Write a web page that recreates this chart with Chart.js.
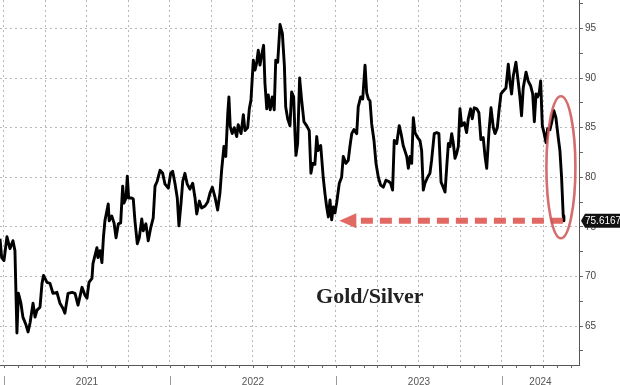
<!DOCTYPE html>
<html>
<head>
<meta charset="utf-8">
<script src="https://cdn.jsdelivr.net/npm/chart.js@4"></script>
<style>
  html, body { margin: 0; padding: 0; background: #fff; }
  #wrap { width: 620px; height: 385px; }
</style>
</head>
<body>
<div id="wrap"><canvas id="ratioChart" width="620" height="385"></canvas></div>
<script>
// time in fractional years
const yearFrac = [
  2020.976, 2020.986, 2021.000, 2021.018, 2021.036, 2021.054, 2021.066, 2021.078, 2021.087, 2021.102,
  2021.114, 2021.133, 2021.145, 2021.157, 2021.175, 2021.187, 2021.199, 2021.217, 2021.229, 2021.238,
  2021.259, 2021.277, 2021.295, 2021.319, 2021.337, 2021.355, 2021.367, 2021.386, 2021.410, 2021.428,
  2021.446, 2021.470, 2021.488, 2021.500, 2021.512, 2021.530, 2021.536, 2021.560, 2021.566, 2021.578,
  2021.590, 2021.599, 2021.608, 2021.628, 2021.634, 2021.649, 2021.663, 2021.675, 2021.689, 2021.703,
  2021.715, 2021.723, 2021.735, 2021.743, 2021.751, 2021.769, 2021.779, 2021.789, 2021.803, 2021.815,
  2021.830, 2021.839, 2021.855, 2021.869, 2021.884, 2021.899, 2021.910, 2021.923, 2021.940, 2021.956,
  2021.970, 2021.990, 2022.004, 2022.016, 2022.030, 2022.044, 2022.054, 2022.066, 2022.077, 2022.090,
  2022.104, 2022.120, 2022.137, 2022.151, 2022.161, 2022.177, 2022.191, 2022.211, 2022.227, 2022.241,
  2022.255, 2022.271, 2022.287, 2022.301, 2022.311, 2022.325, 2022.336, 2022.348, 2022.355, 2022.363,
  2022.375, 2022.387, 2022.402, 2022.411, 2022.428, 2022.442, 2022.452, 2022.468, 2022.478, 2022.488,
  2022.502, 2022.512, 2022.522, 2022.532, 2022.542, 2022.552, 2022.564, 2022.572, 2022.583, 2022.592,
  2022.604, 2022.616, 2022.628, 2022.637, 2022.649, 2022.663, 2022.677, 2022.689, 2022.697, 2022.709,
  2022.723, 2022.733, 2022.745, 2022.753, 2022.759, 2022.769, 2022.781, 2022.793, 2022.807, 2022.823,
  2022.839, 2022.849, 2022.860, 2022.873, 2022.884, 2022.893, 2022.908, 2022.923, 2022.934, 2022.944,
  2022.954, 2022.964, 2022.974, 2022.984, 2022.994, 2023.004, 2023.020, 2023.034, 2023.044, 2023.060,
  2023.074, 2023.084, 2023.095, 2023.108, 2023.125, 2023.134, 2023.149, 2023.161, 2023.175, 2023.185,
  2023.195, 2023.205, 2023.215, 2023.229, 2023.241, 2023.255, 2023.269, 2023.285, 2023.301, 2023.315,
  2023.329, 2023.341, 2023.351, 2023.366, 2023.381, 2023.392, 2023.405, 2023.426, 2023.436, 2023.446,
  2023.456, 2023.466, 2023.476, 2023.492, 2023.506, 2023.516, 2023.526, 2023.536, 2023.552, 2023.566,
  2023.576, 2023.592, 2023.607, 2023.620, 2023.633, 2023.646, 2023.657, 2023.667, 2023.677, 2023.687,
  2023.697, 2023.707, 2023.717, 2023.727, 2023.737, 2023.747, 2023.757, 2023.773, 2023.787, 2023.797,
  2023.811, 2023.821, 2023.833, 2023.848, 2023.861, 2023.873, 2023.887, 2023.898, 2023.908, 2023.922,
  2023.934, 2023.948, 2023.958, 2023.972, 2023.982, 2023.994, 2024.008, 2024.024, 2024.038, 2024.048,
  2024.058, 2024.068, 2024.084, 2024.098, 2024.108, 2024.118, 2024.128, 2024.145, 2024.158, 2024.173,
  2024.185, 2024.195, 2024.205, 2024.215, 2024.225, 2024.233, 2024.243, 2024.253, 2024.265, 2024.275,
  2024.289, 2024.299, 2024.313, 2024.325, 2024.339, 2024.349, 2024.359, 2024.369, 2024.373
];

// gold / silver ratio
const ratio = [
  73.8, 71.9, 71.6, 74.0, 72.8, 73.6, 72.6, 64.3, 68.3, 67.3,
  65.9, 65.1, 64.4, 65.3, 67.3, 65.9, 66.6, 66.9, 69.3, 70.1,
  69.4, 69.3, 68.3, 68.4, 67.3, 66.8, 66.3, 68.3, 68.4, 68.3,
  67.1, 68.9, 68.1, 67.8, 69.4, 69.8, 71.3, 72.9, 71.9, 72.6,
  71.4, 73.9, 75.6, 77.3, 75.6, 76.1, 75.4, 73.9, 75.3, 75.4,
  79.1, 77.4, 77.9, 80.1, 77.9, 77.9, 77.8, 75.6, 73.3, 73.9,
  75.8, 74.6, 75.3, 73.6, 74.9, 75.9, 79.1, 79.6, 80.7, 80.4,
  79.3, 78.9, 80.4, 80.6, 79.4, 77.9, 75.1, 77.3, 79.6, 80.4,
  79.3, 78.8, 79.4, 77.9, 76.3, 77.6, 76.9, 77.1, 77.5, 78.4,
  79.0, 78.0, 76.7, 78.4, 80.7, 83.1, 82.1, 86.4, 88.1, 85.1,
  84.4, 85.0, 84.1, 85.3, 84.4, 86.3, 84.7, 85.0, 86.9, 87.8,
  91.8, 90.8, 91.5, 92.8, 91.3, 92.3, 93.3, 89.5, 86.9, 88.3,
  86.8, 88.1, 86.8, 91.8, 91.6, 95.4, 94.5, 91.3, 87.1, 85.9,
  85.2, 88.6, 88.1, 84.4, 82.2, 83.4, 90.0, 87.8, 85.6, 85.2,
  84.7, 80.4, 81.4, 81.3, 84.1, 82.7, 83.2, 80.0, 78.3, 77.0,
  76.0, 77.7, 75.7, 77.0, 76.4, 77.4, 79.4, 80.0, 82.1, 81.4,
  81.7, 83.1, 84.4, 84.8, 84.4, 87.1, 88.1, 87.9, 91.3, 88.5,
  87.9, 87.7, 85.4, 83.7, 81.4, 80.0, 79.2, 79.0, 79.7, 79.6,
  79.4, 78.7, 83.7, 83.4, 85.2, 84.4, 83.2, 82.1, 80.9, 82.1,
  81.4, 86.0, 84.5, 84.0, 83.7, 82.7, 78.7, 79.4, 80.0, 80.4,
  81.7, 84.4, 84.5, 84.4, 79.5, 79.0, 78.5, 81.0, 83.4, 83.1,
  84.4, 83.4, 81.9, 82.4, 83.1, 86.9, 85.2, 85.5, 84.5, 85.9,
  86.9, 85.9, 87.0, 86.9, 86.5, 83.8, 84.0, 82.1, 80.9, 84.7,
  87.0, 85.0, 84.4, 85.0, 86.7, 88.4, 88.7, 89.0, 91.4, 89.6,
  88.4, 90.2, 91.6, 89.6, 88.1, 86.2, 89.0, 90.6, 89.7, 89.2,
  88.4, 85.6, 88.4, 88.1, 88.6, 89.7, 85.2, 84.5, 83.5, 84.9,
  84.8, 85.5, 86.7, 86.0, 84.0, 82.7, 80.0, 76.1, 75.6167
];

const yearLabels = [2021, 2022, 2023, 2024];
const lastValue = 75.6167;
const seriesTitle = 'Gold/Silver';

const noPad = s => { s.paddingLeft = 0; s.paddingRight = 0; s.paddingTop = 0; s.paddingBottom = 0; };
const tickFont = '"Liberation Sans", Arial, sans-serif';

// extra drawing: month ticks, year labels, ellipse, arrow, text and last-value tag
const overlay = {
  id: 'overlay',
  afterDatasetsDraw(chart) {
    const { ctx, chartArea } = chart;
    const x = chart.scales.x, y = chart.scales.y;
    const lastX = x.getPixelForValue(yearFrac[yearFrac.length - 1]);
    const lastY = y.getPixelForValue(lastValue);

    ctx.save();
    ctx.beginPath();
    ctx.rect(chartArea.left, chartArea.top, chartArea.width, chartArea.height);
    ctx.clip();

    // dashed arrow back to the 2022 low
    const tipX = x.getPixelForValue(2023.02);
    ctx.strokeStyle = 'rgba(221,78,72,0.85)';
    ctx.fillStyle = 'rgba(221,78,72,0.85)';
    ctx.lineWidth = 6;
    ctx.setLineDash([12, 7]);
    ctx.beginPath();
    ctx.moveTo(lastX - 1, lastY);
    ctx.lineTo(tipX + 16, lastY);
    ctx.stroke();
    ctx.setLineDash([]);
    ctx.beginPath();
    ctx.moveTo(tipX, lastY);
    ctx.lineTo(tipX + 17, lastY - 7.5);
    ctx.lineTo(tipX + 17, lastY + 7.5);
    ctx.closePath();
    ctx.fill();

    // ellipse round the last drop
    const ex = x.getPixelForValue(2024.355);
    const ey = y.getPixelForValue(81.0);
    ctx.strokeStyle = 'rgba(205,85,85,0.85)';
    ctx.lineWidth = 2.6;
    ctx.beginPath();
    ctx.ellipse(ex, ey, 14.5, 71, 0, 0, Math.PI * 2);
    ctx.stroke();

    // title inside the plot
    ctx.fillStyle = '#222';
    ctx.font = 'bold 22px "Liberation Serif", "DejaVu Serif", serif';
    ctx.textBaseline = 'alphabetic';
    ctx.fillText(seriesTitle, x.getPixelForValue(2022.88), y.getPixelForValue(67.3));
    ctx.restore();
  },
  afterDraw(chart) {
    const { ctx, chartArea } = chart;
    const x = chart.scales.x, y = chart.scales.y;
    ctx.save();
    // monthly minor ticks on the bottom axis
    ctx.strokeStyle = '#666';
    ctx.lineWidth = 1;
    for (let yr = 2020; yr <= 2024; yr++) {
      for (let m = 0; m < 12; m++) {
        const v = yr + m / 12;
        if (v < x.min || v > x.max) continue;
        const px = Math.round(x.getPixelForValue(v)) + 0.5;
        ctx.beginPath();
        ctx.moveTo(px, chartArea.bottom);
        ctx.lineTo(px, chartArea.bottom + 3);
        ctx.stroke();
      }
    }
    // year separators and year labels under the axis
    ctx.strokeStyle = '#999';
    ctx.fillStyle = '#555';
    ctx.font = '10px ' + tickFont;
    ctx.textAlign = 'center';
    ctx.textBaseline = 'top';
    yearLabels.forEach(yr => {
      const px = Math.round(x.getPixelForValue(yr)) + 0.5;
      ctx.beginPath();
      ctx.moveTo(px, chartArea.bottom + 11);
      ctx.lineTo(px, chartArea.bottom + 22);
      ctx.stroke();
      const mid = (Math.max(yr, x.min) + Math.min(yr + 1, x.max)) / 2;
      ctx.fillText(String(yr), x.getPixelForValue(mid), chartArea.bottom + 12);
    });

    // last value tag
    const ly = y.getPixelForValue(lastValue);
    const lx = chartArea.right + 2;
    ctx.fillStyle = '#111';
    ctx.beginPath();
    ctx.moveTo(lx, ly);
    ctx.lineTo(lx + 4, ly - 7);
    ctx.lineTo(chart.width, ly - 7);
    ctx.lineTo(chart.width, ly + 7);
    ctx.lineTo(lx + 4, ly + 7);
    ctx.closePath();
    ctx.fill();
    ctx.fillStyle = '#fff';
    ctx.textAlign = 'left';
    ctx.textBaseline = 'middle';
    ctx.fillText(lastValue.toFixed(4), lx + 4, ly + 0.5);
    ctx.restore();
  }
};

const ctx = document.getElementById('ratioChart').getContext('2d');
const ratioChart = new Chart(ctx, {
  type: 'line',
  data: {
    datasets: [{
      label: seriesTitle,
      data: yearFrac.map((t, i) => ({ x: t, y: ratio[i] })),
      borderColor: '#000',
      borderWidth: 2.9,
      borderJoinStyle: 'round',
      pointRadius: 0,
      tension: 0,
      fill: false
    }]
  },
  options: {
    responsive: false,
    animation: false,
    layout: { padding: 0, autoPadding: false },
    plugins: {
      legend: { display: false },
      tooltip: { enabled: false }
    },
    scales: {
      x: {
        type: 'linear',
        min: 2020.976,
        max: 2024.464,
        afterFit: s => { s.height = 20; noPad(s); },
        border: { display: true, color: '#555', width: 1, dash: [2, 3] },
        grid: { color: '#b8b8b8', lineWidth: 1, drawTicks: false },
        ticks: {
          stepSize: 0.25,
          includeBounds: false,
          autoSkip: false,
          maxRotation: 0,
          callback: () => ''
        }
      },
      y: {
        position: 'right',
        min: 61.07,
        max: 97.87,
        afterFit: s => { s.width = 41; noPad(s); },
        border: { display: true, color: '#555', width: 1, dash: [2, 3] },
        grid: {
          color: c => (c.tick && c.tick.value % 5 === 0) ? '#b8b8b8' : 'rgba(0,0,0,0)',
          tickColor: '#666',
          tickLength: 4,
          lineWidth: 1
        },
        ticks: {
          stepSize: 2.5,
          includeBounds: false,
          padding: 2,
          color: '#444',
          font: { family: tickFont, size: 10 },
          callback: v => (v % 5 === 0) ? String(v) : ''
        }
      }
    }
  },
  plugins: [overlay]
});
</script>
</body>
</html>
